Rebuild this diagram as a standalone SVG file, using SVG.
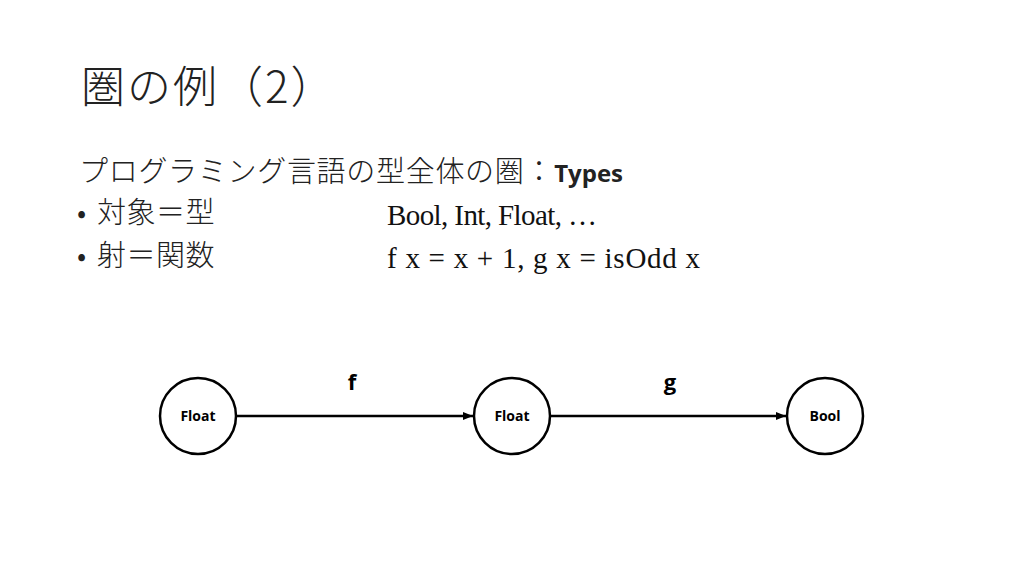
<svg xmlns="http://www.w3.org/2000/svg" width="1024" height="576" viewBox="0 0 1024 576">
<style>
.jp{font-family:"Noto Sans CJK JP","Noto Sans",sans-serif;fill:#222;font-weight:300}
.m{font-family:"Liberation Serif","DejaVu Serif",serif;font-size:29px;fill:#111}
.node circle{fill:#fff;stroke:#000;stroke-width:2.5}
.node text{font-family:"Open Sans","Liberation Sans",sans-serif;font-weight:bold;font-size:14px;fill:#000;text-anchor:middle}
.lbl{font-family:"Open Sans","Liberation Sans",sans-serif;font-weight:bold;font-size:22px;fill:#000;text-anchor:middle}
</style>
<defs>
<marker id="ah" viewBox="0 0 10 10" refX="10" refY="5" markerWidth="4" markerHeight="4" orient="auto" markerUnits="strokeWidth">
<path d="M0,1 L10,5 L0,9 z" fill="#000"/>
</marker>
</defs>
<rect width="1024" height="576" fill="#fff"/>
<text class="jp" x="81" y="103" font-size="44" letter-spacing="2">圏の例（2）</text>
<text class="jp" x="79" y="182" font-size="29" letter-spacing="0.7">プログラミング言語の型全体の圏：<tspan font-family="'Open Sans','Liberation Sans',sans-serif" font-weight="bold" font-size="24" letter-spacing="0">Types</tspan></text>
<text class="jp" x="77" y="223" font-size="29" letter-spacing="0.5">•<tspan x="97">対象＝型</tspan></text>
<text class="jp" x="77" y="266" font-size="29" letter-spacing="0.5">•<tspan x="97">射＝関数</tspan></text>
<text class="m" x="387" y="225" textLength="210" lengthAdjust="spacing">Bool, Int, Float, …</text>
<text class="m" x="387" y="268" textLength="313" lengthAdjust="spacing">f x = x + 1, g x = isOdd x</text>
<g id="connectors" stroke="#000" stroke-width="2.5" fill="none">
<line x1="237" y1="416" x2="473" y2="416" marker-end="url(#ah)"/>
<line x1="551" y1="416" x2="786" y2="416" marker-end="url(#ah)"/>
</g>
<text class="lbl" x="352" y="390">f</text>
<text class="lbl" x="670" y="390">g</text>
<g id="n1" class="node"><circle cx="198" cy="416" r="38"/><text x="198" y="421">Float</text></g>
<g id="n2" class="node"><circle cx="512" cy="416" r="38"/><text x="512" y="421">Float</text></g>
<g id="n3" class="node"><circle cx="825" cy="416" r="38"/><text x="825" y="421">Bool</text></g>
</svg>
